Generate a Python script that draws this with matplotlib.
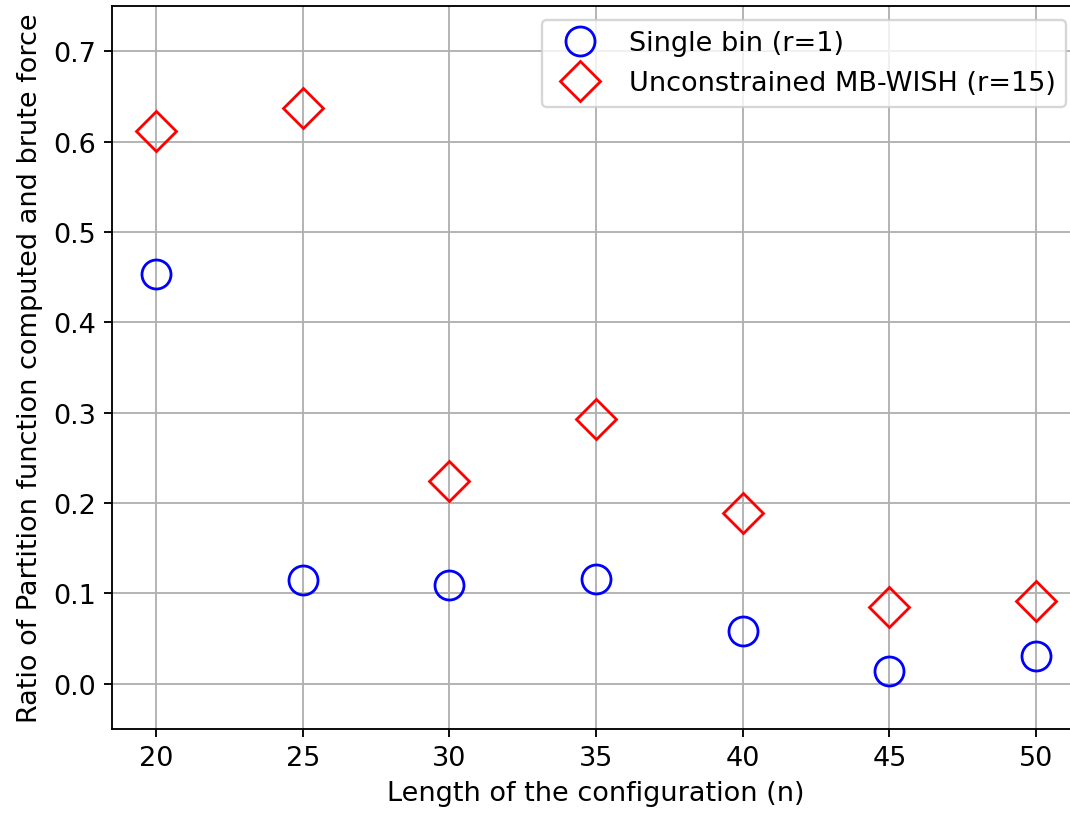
import matplotlib
matplotlib.use("Agg")
import matplotlib.pyplot as plt

n_values = [20, 25, 30, 35, 40, 45, 50]
single_bin = [0.454, 0.115, 0.109, 0.116, 0.058, 0.014, 0.031]
mb_wish = [0.612, 0.637, 0.224, 0.293, 0.189, 0.085, 0.092]

plt.rcParams['font.size'] = 11.7

fig = plt.figure(figsize=(6.4, 4.874), dpi=167.2)
# axes runs past the right edge of the figure (reference is cropped there)
ax = fig.add_axes([112 / 1070, 1 - 729 / 814, 968 / 1070, 722 / 814])

ax.plot(n_values, single_bin, 'o', markersize=12.5, markerfacecolor='none',
        markeredgecolor='blue', markeredgewidth=1.2, label='Single bin (r=1)')
ax.plot(n_values, mb_wish, 'D', markersize=12, markerfacecolor='none',
        markeredgecolor='red', markeredgewidth=1.2, label='Unconstrained MB-WISH (r=15)')

ax.set_xlim(18.5, 51.5)
ax.set_ylim(-0.05, 0.75)
ax.set_xticks(n_values)
ax.set_xlabel('Length of the configuration (n)')
ax.set_ylabel('Ratio of Partition function computed and brute force')
ax.grid(True)
ax.legend(loc='upper right')

fig.savefig('out.png', dpi=167.2)
